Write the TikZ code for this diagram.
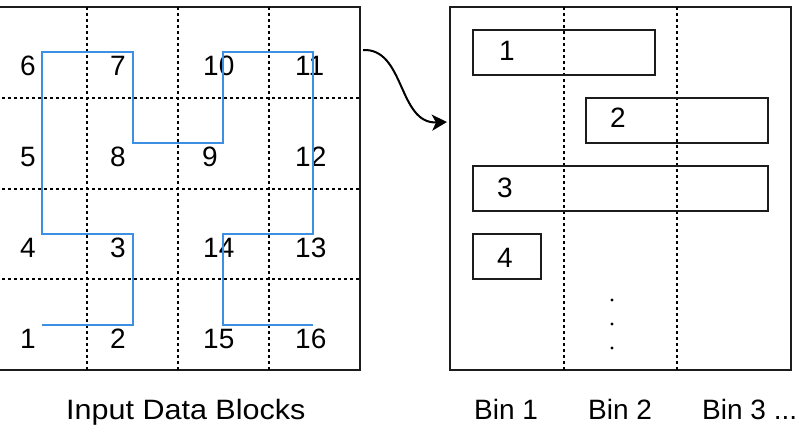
\documentclass[tikz,border=0pt]{standalone}
\usepackage{fontspec}
\setmainfont{Liberation Sans}
\newfontfamily\widefont[FakeStretch=1.09]{Liberation Sans}
\usetikzlibrary{positioning,arrows.meta}
\definecolor{curveblue}{HTML}{3D8FE3}
\definecolor{framedark}{HTML}{1C1C1C}

\begin{document}
\begin{tikzpicture}[x=1pt, y=-1pt, >={Stealth[length=15pt,width=16pt,inset=4pt]},
	frame/.style={draw=framedark, line width=2pt, inner sep=0pt},
	gridline/.style={black, line width=1.6pt, dash pattern=on 3pt off 3pt},
	lbl/.style={font=\fontsize{28}{32}\selectfont, inner sep=0pt, anchor=base west}]
	\useasboundingbox (0,0) rectangle (800,424);
	% input blocks
	\node[frame, minimum width=364pt, minimum height=363pt] (blocks) at (178,188.5) {};
	\foreach \x in {87,178,269}
		\draw[gridline] (\x,7) -- (\x,370);
	\foreach \y in {98,189,279}
		\draw[gridline] (-4,\y) -- (360,\y);
	% block numbers
	\foreach \n/\x/\y in {6/20/75, 7/110/75, 10/203/75, 11/295/75,
		5/20/166, 8/110/166, 9/202/166, 12/295/166,
		4/20/257, 3/110/257, 14/203/257, 13/295/257,
		1/20/348, 2/110/348, 15/203/348, 16/295/348}
		\node[lbl] (n\n) at (\x,\y) {\n};
	% space filling curve
	\draw[curveblue, line width=2pt] (42,325) -- (133,325) -- (133,234) -- (42,234) -- (42,52)
		-- (133,52) -- (133,143) -- (223,143) -- (223,52) -- (313,52) -- (313,234)
		-- (223,234) -- (223,325) -- (313,325);
	% bins
	\node[frame, minimum width=341pt, minimum height=363pt] (bins) at (620.5,188.5) {};
	\foreach \x in {564,677}
		\draw[gridline] (\x,7) -- (\x,370);
	\draw[frame] (473,30) rectangle (655,75);
	\draw[frame] (586,98) rectangle (768,143);
	\draw[frame] (473,166) rectangle (768,211);
	\draw[frame] (473,234) rectangle (541,279);
	\node[lbl] (b1) at (499,60) {1};
	\node[lbl] (b2) at (610,127) {2};
	\node[lbl] (b3) at (497,197) {3};
	\node[lbl] (b4) at (497,267) {4};
	\foreach \y in {300,324,348}
		\fill (612,\y) circle (1.6pt);
	% mapping arrow
	\coordinate (src) at ([xshift=2pt]blocks.east |- 0,50);
	\coordinate (dst) at ([xshift=-2pt]bins.west |- 0,122);
	\draw[->, line width=2pt] (src) .. controls (405,48) and (398,124) .. (dst);
	% captions
	\node[lbl, font=\widefont\fontsize{28}{32}\selectfont] (cap) at (66,419) {Input Data Blocks};
	\node[lbl] (bin1) at (474,419) {Bin 1};
	\node[lbl] (bin2) at (588,419) {Bin 2};
	\node[lbl] (bin3) at (702,419) {Bin 3 ...};
\end{tikzpicture}
\end{document}
